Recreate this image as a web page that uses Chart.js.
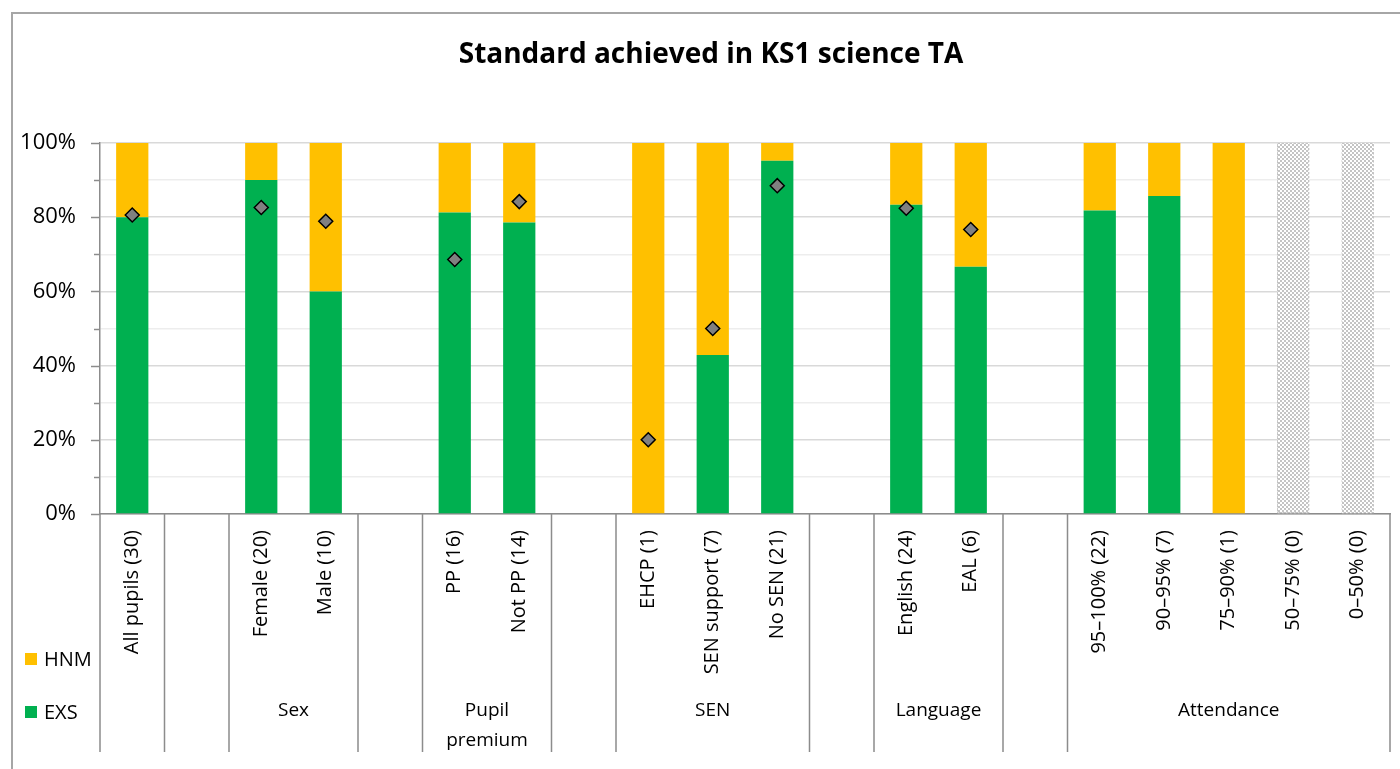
<!DOCTYPE html>
<html>
<head>
<meta charset="utf-8">
<script src="https://cdn.jsdelivr.net/npm/chart.js@4.4.1/dist/chart.umd.min.js"></script>
<style>
  html, body { margin: 0; padding: 0; background: #ffffff; }
  #wrap { width: 1400px; height: 769px; position: relative; }
</style>
</head>
<body>
<div id="wrap"><canvas id="c" width="1400" height="769"></canvas></div>
<script>
// ---- data ----
const categories = ['All pupils (30)', '', 'Female (20)', 'Male (10)', '', 'PP (16)', 'Not PP (14)', '',
  'EHCP (1)', 'SEN support (7)', 'No SEN (21)', '', 'English (24)', 'EAL (6)', '',
  '95–100% (22)', '90–95% (7)', '75–90% (1)', '50–75% (0)', '0–50% (0)'];
const exsValues = [80, null, 90, 60, null, 81.25, 78.57, null, 0, 42.86, 95.24, null, 83.33, 66.67, null, 81.82, 85.71, 0, null, null];
const hnmValues = [20, null, 10, 40, null, 18.75, 21.43, null, 100, 57.14, 4.76, null, 16.67, 33.33, null, 18.18, 14.29, 100, null, null];
const noDataValues = [null, null, null, null, null, null, null, null, null, null, null, null, null, null, null, null, null, null, 100, 100];
const comparisonValues = [80.6, null, 82.6, 78.9, null, 68.6, 84.2, null, 20, 50, 88.5, null, 82.4, 76.7, null, null, null, null, null, null];
const yTickLabels = ['0%', '20%', '40%', '60%', '80%', '100%'];
const groups = [
  { label: [''], from: 0, to: 0 },
  { label: [''], from: 1, to: 1 },
  { label: ['Sex'], from: 2, to: 3 },
  { label: [''], from: 4, to: 4 },
  { label: ['Pupil', 'premium'], from: 5, to: 6 },
  { label: [''], from: 7, to: 7 },
  { label: ['SEN'], from: 8, to: 10 },
  { label: [''], from: 11, to: 11 },
  { label: ['Language'], from: 12, to: 13 },
  { label: [''], from: 14, to: 14 },
  { label: ['Attendance'], from: 15, to: 19 }
];
const legendItems = [{ label: 'HNM', color: '#FFC000' }, { label: 'EXS', color: '#00B050' }];
const titleText = 'Standard achieved in KS1 science TA';

// ---- styles ----
const FONT = '"Open Sans", "Noto Sans", sans-serif';
const AXIS_COLOR = '#8c8c8c';

function makePattern() {
  const p = document.createElement('canvas');
  p.width = 4; p.height = 4;
  const g = p.getContext('2d');
  g.fillStyle = '#ffffff';
  g.fillRect(0, 0, 4, 4);
  g.fillStyle = '#c4c4c4';
  g.fillRect(0, 0, 2, 2);
  g.fillRect(2, 2, 2, 2);
  return document.getElementById('c').getContext('2d').createPattern(p, 'repeat');
}

const decor = {
  id: 'decor',
  beforeDraw(chart) {
    const ctx = chart.ctx;
    ctx.save();
    ctx.fillStyle = '#ffffff';
    ctx.fillRect(0, 0, chart.width, chart.height);
    // outer frame
    ctx.strokeStyle = '#a6a6a6';
    ctx.lineWidth = 2;
    ctx.beginPath();
    ctx.moveTo(12, chart.height);
    ctx.lineTo(12, 13);
    ctx.lineTo(chart.width, 13);
    ctx.stroke();
    // title
    ctx.fillStyle = '#000000';
    ctx.font = 'bold 28px ' + FONT;
    ctx.textAlign = 'center';
    ctx.textBaseline = 'middle';
    ctx.fillText(titleText, 711, 55);
    ctx.restore();
  },
  afterDatasetsDraw(chart) {
    // dashed outline on the "no data" bars
    const ctx = chart.ctx;
    const meta = chart.getDatasetMeta(2);
    ctx.save();
    ctx.strokeStyle = '#c4c4c4';
    ctx.lineWidth = 1;
    ctx.setLineDash([2, 2]);
    meta.data.forEach((el, i) => {
      if (noDataValues[i] == null) return;
      const p = el.getProps(['x', 'y', 'base', 'width'], true);
      ctx.strokeRect(Math.round(p.x - p.width / 2) + 0.5, Math.round(p.y) + 0.5,
        Math.round(p.width) - 1, Math.round(p.base - p.y) - 1);
    });
    ctx.restore();
  },
  afterDraw(chart) {
    const ctx = chart.ctx;
    const x = chart.scales.x, y = chart.scales.y;
    const area = chart.chartArea;
    const half = (x.getPixelForValue(1) - x.getPixelForValue(0)) / 2;
    ctx.save();
    // y tick marks
    ctx.strokeStyle = AXIS_COLOR;
    ctx.lineWidth = 1.5;
    for (let v = 0; v <= 100; v += 10) {
      const py = Math.round(y.getPixelForValue(v)) + 0.5;
      const len = (v % 20 === 0) ? 9 : 6;
      ctx.beginPath();
      ctx.moveTo(area.left - len, py);
      ctx.lineTo(area.left, py);
      ctx.stroke();
    }
    // category separators
    const bottomY = 752;
    ctx.beginPath();
    const first = x.getPixelForValue(0) - half;
    ctx.moveTo(first, area.bottom);
    ctx.lineTo(first, bottomY);
    groups.forEach(g => {
      const px = x.getPixelForValue(g.to) + half;
      ctx.moveTo(px, area.bottom);
      ctx.lineTo(px, bottomY);
    });
    ctx.stroke();
    // group labels
    ctx.fillStyle = '#000000';
    ctx.font = '19px ' + FONT;
    ctx.textAlign = 'center';
    ctx.textBaseline = 'middle';
    groups.forEach(g => {
      const cx = (x.getPixelForValue(g.from) + x.getPixelForValue(g.to)) / 2;
      g.label.forEach((line, i) => ctx.fillText(line, cx, 711 + i * 30));
    });
    // legend
    ctx.textAlign = 'left';
    ctx.font = '20px ' + FONT;
    legendItems.forEach((it, i) => {
      const ly = 659 + i * 53;
      ctx.fillStyle = it.color;
      ctx.fillRect(25, ly - 6, 12, 12);
      ctx.fillStyle = '#000000';
      ctx.fillText(it.label, 44, ly + 1);
    });
    ctx.restore();
  }
};

const pattern = makePattern();

new Chart(document.getElementById('c'), {
  type: 'bar',
  data: {
    labels: categories,
    datasets: [
      { label: 'EXS', data: exsValues, backgroundColor: '#00B050', stack: 's', order: 2,
        barPercentage: 0.5, categoryPercentage: 1.0 },
      { label: 'HNM', data: hnmValues, backgroundColor: '#FFC000', stack: 's', order: 2,
        barPercentage: 0.5, categoryPercentage: 1.0 },
      { label: 'No data', data: noDataValues, backgroundColor: pattern, stack: 's', order: 2,
        barPercentage: 0.5, categoryPercentage: 1.0 },
      { type: 'line', label: 'Comparison', data: comparisonValues, showLine: false, order: 0,
        pointStyle: 'rectRot', pointRadius: 7, pointHoverRadius: 7,
        pointBackgroundColor: '#808080', pointBorderColor: '#000000', pointBorderWidth: 1.5 }
    ]
  },
  options: {
    responsive: false,
    animation: false,
    events: [],
    layout: { padding: { top: 143, left: 0, right: 10, bottom: 0 } },
    plugins: { legend: { display: false }, title: { display: false }, tooltip: { enabled: false } },
    scales: {
      x: {
        stacked: true,
        grid: { display: false, drawTicks: false },
        border: { display: true, color: AXIS_COLOR, width: 1.5 },
        ticks: {
          autoSkip: false, maxRotation: 90, minRotation: 90, padding: 16,
          color: '#000000', font: { family: FONT, size: 20 }
        },
        afterFit(scale) { scale.height = 255; }
      },
      y: {
        stacked: true,
        min: 0, max: 100,
        grid: {
          drawTicks: false,
          color: c => (c.tick && c.tick.value % 20 === 0) ? '#d9d9d9' : '#ededed',
          lineWidth: 1.5
        },
        border: { display: true, color: AXIS_COLOR, width: 1.5 },
        ticks: {
          stepSize: 10, padding: 24, color: '#000000',
          font: { family: FONT, size: 22 },
          callback: v => (v % 20 === 0) ? yTickLabels[v / 20] : ''
        },
        afterFit(scale) { scale.width = 100; }
      }
    }
  },
  plugins: [decor]
});
</script>
</body>
</html>
